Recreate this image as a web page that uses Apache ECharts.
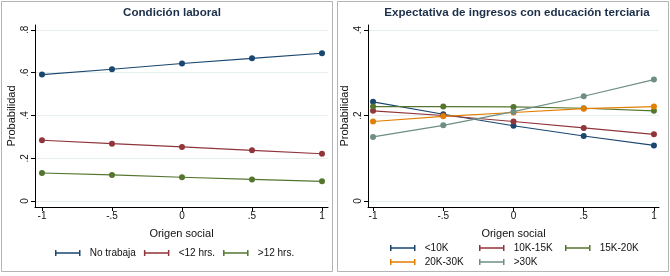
<!DOCTYPE html>
<html>
<head>
<meta charset="utf-8">
<script src="https://cdn.jsdelivr.net/npm/echarts@6/dist/echarts.min.js"></script>
<style>
  html, body { margin: 0; padding: 0; background: #fff; }
  #chart { width: 670px; height: 276px; }
</style>
</head>
<body>
<div id="chart"></div>
<script>
// origen social (x) y probabilidades
var origen = [-1, -0.5, 0, 0.5, 1];

// panel izquierdo: condicion laboral
var noTrabaja = [0.591, 0.616, 0.643, 0.667, 0.691];
var menos12 = [0.284, 0.268, 0.253, 0.237, 0.221];
var mas12 = [0.131, 0.122, 0.111, 0.101, 0.092];

// panel derecho: expectativa de ingresos
var k10 = [0.232, 0.203, 0.176, 0.152, 0.130];
var k10_15 = [0.211, 0.200, 0.186, 0.171, 0.156];
var k15_20 = [0.221, 0.221, 0.220, 0.217, 0.211];
var k20_30 = [0.186, 0.198, 0.207, 0.216, 0.221];
var k30 = [0.150, 0.177, 0.209, 0.245, 0.284];

var xTicks = [-1, -0.5, 0, 0.5, 1];
var yTicksL = [0, 0.2, 0.4, 0.6, 0.8];
var yTicksR = [0, 0.2, 0.4];

var colors = ['#1a476f', '#90353b', '#55752f', '#e37e00', '#6e8e84'];
var font = 'Liberation Sans, Arial, sans-serif';
var legendIcon = 'path://M0,0 H2 V3 H32 V0 H34 V8 H32 V5 H2 V8 H0 Z';

function stataNum(v) {
    // 0.5 -> .5 , -0.5 -> -.5
    return String(v).replace('0.', '.');
}

function pairs(ys) {
    return origen.map(function (x, i) { return [x, ys[i]]; });
}

function xAxis(idx, min, max) {
    return {
        type: 'value', gridIndex: idx, min: min, max: max,
        name: 'Origen social', nameLocation: 'middle', nameGap: 21,
        nameTextStyle: { fontFamily: font, fontSize: 11, color: '#111' },
        axisLine: { onZero: false, lineStyle: { color: '#000', width: 1 } },
        axisTick: { customValues: xTicks, length: 4, lineStyle: { color: '#000' } },
        axisLabel: { customValues: xTicks, formatter: stataNum, fontFamily: font, fontSize: 10, color: '#111', margin: 4 },
        splitLine: { show: false }
    };
}

function yAxis(idx, min, max, ticks) {
    return {
        type: 'value', gridIndex: idx, min: min, max: max,
        name: 'Probabilidad', nameLocation: 'middle', nameGap: 18,
        nameTextStyle: { fontFamily: font, fontSize: 11, color: '#111' },
        axisLine: { show: true, onZero: false, lineStyle: { color: '#000', width: 1 } },
        axisTick: { show: true, customValues: ticks, length: 4, lineStyle: { color: '#000' } },
        axisLabel: { customValues: ticks, formatter: stataNum, rotate: 90, fontFamily: font, fontSize: 10, color: '#111', margin: 5 },
        splitLine: { show: true, customValues: ticks, lineStyle: { color: '#e6eef0', width: 1 } }
    };
}

function line(name, ys, idx, color) {
    return {
        name: name, type: 'line', xAxisIndex: idx, yAxisIndex: idx,
        data: pairs(ys), symbol: 'circle', symbolSize: 6,
        itemStyle: { color: color },
        lineStyle: { color: color, width: 1.2 },
        emphasis: { disabled: true },
        animation: false
    };
}

var legendText = { fontFamily: font, fontSize: 10, color: '#111' };

function legendBox(names, left, top, gap) {
    return {
        data: names, left: left, top: top, padding: 0,
        icon: legendIcon, itemWidth: 34, itemHeight: 6, itemGap: gap,
        textStyle: legendText
    };
}

var chart = echarts.init(document.getElementById('chart'), null, { renderer: 'canvas' });
chart.setOption({
    backgroundColor: '#fff',
    animation: false,
    title: [
        { text: 'Condición laboral', left: 172, top: 7, padding: 0, textAlign: 'center',
          textStyle: { fontFamily: font, fontSize: 11.6, fontWeight: 'bold', color: '#1c2f48' } },
        { text: 'Expectativa de ingresos con educación terciaria', left: 517, top: 7, padding: 0, textAlign: 'center',
          textStyle: { fontFamily: font, fontSize: 11.6, fontWeight: 'bold', color: '#1c2f48' } }
    ],
    grid: [
        { left: 35, top: 25, width: 293, height: 182 },
        { left: 368, top: 25, width: 291, height: 182 }
    ],
    xAxis: [xAxis(0, -1.05, 1.043), xAxis(1, -1.036, 1.036)],
    yAxis: [yAxis(0, -0.028, 0.823, yTicksL), yAxis(1, -0.014, 0.4117, yTicksR)],
    legend: [
        legendBox(['No trabaja', '<12 hrs.', '>12 hrs.'], 55, 248, 8),
        // panel derecho: dos filas alineadas en columnas
        legendBox(['<10K'], 390, 243, 0),
        legendBox(['10K-15K'], 479, 243, 0),
        legendBox(['15K-20K'], 565, 243, 0),
        legendBox(['20K-30K'], 390, 257, 0),
        legendBox(['>30K'], 479, 257, 0)
    ],
    graphic: [
        { type: 'rect', shape: { x: 1.5, y: 1.5, width: 331, height: 270 },
          style: { fill: 'none', stroke: '#b4b4b4', lineWidth: 1 }, silent: true },
        { type: 'rect', shape: { x: 337.5, y: 1.5, width: 331, height: 270 },
          style: { fill: 'none', stroke: '#b4b4b4', lineWidth: 1 }, silent: true }
    ],
    series: [
        line('No trabaja', noTrabaja, 0, colors[0]),
        line('<12 hrs.', menos12, 0, colors[1]),
        line('>12 hrs.', mas12, 0, colors[2]),
        line('<10K', k10, 1, colors[0]),
        line('10K-15K', k10_15, 1, colors[1]),
        line('15K-20K', k15_20, 1, colors[2]),
        line('20K-30K', k20_30, 1, colors[3]),
        line('>30K', k30, 1, colors[4])
    ]
});
</script>
</body>
</html>
